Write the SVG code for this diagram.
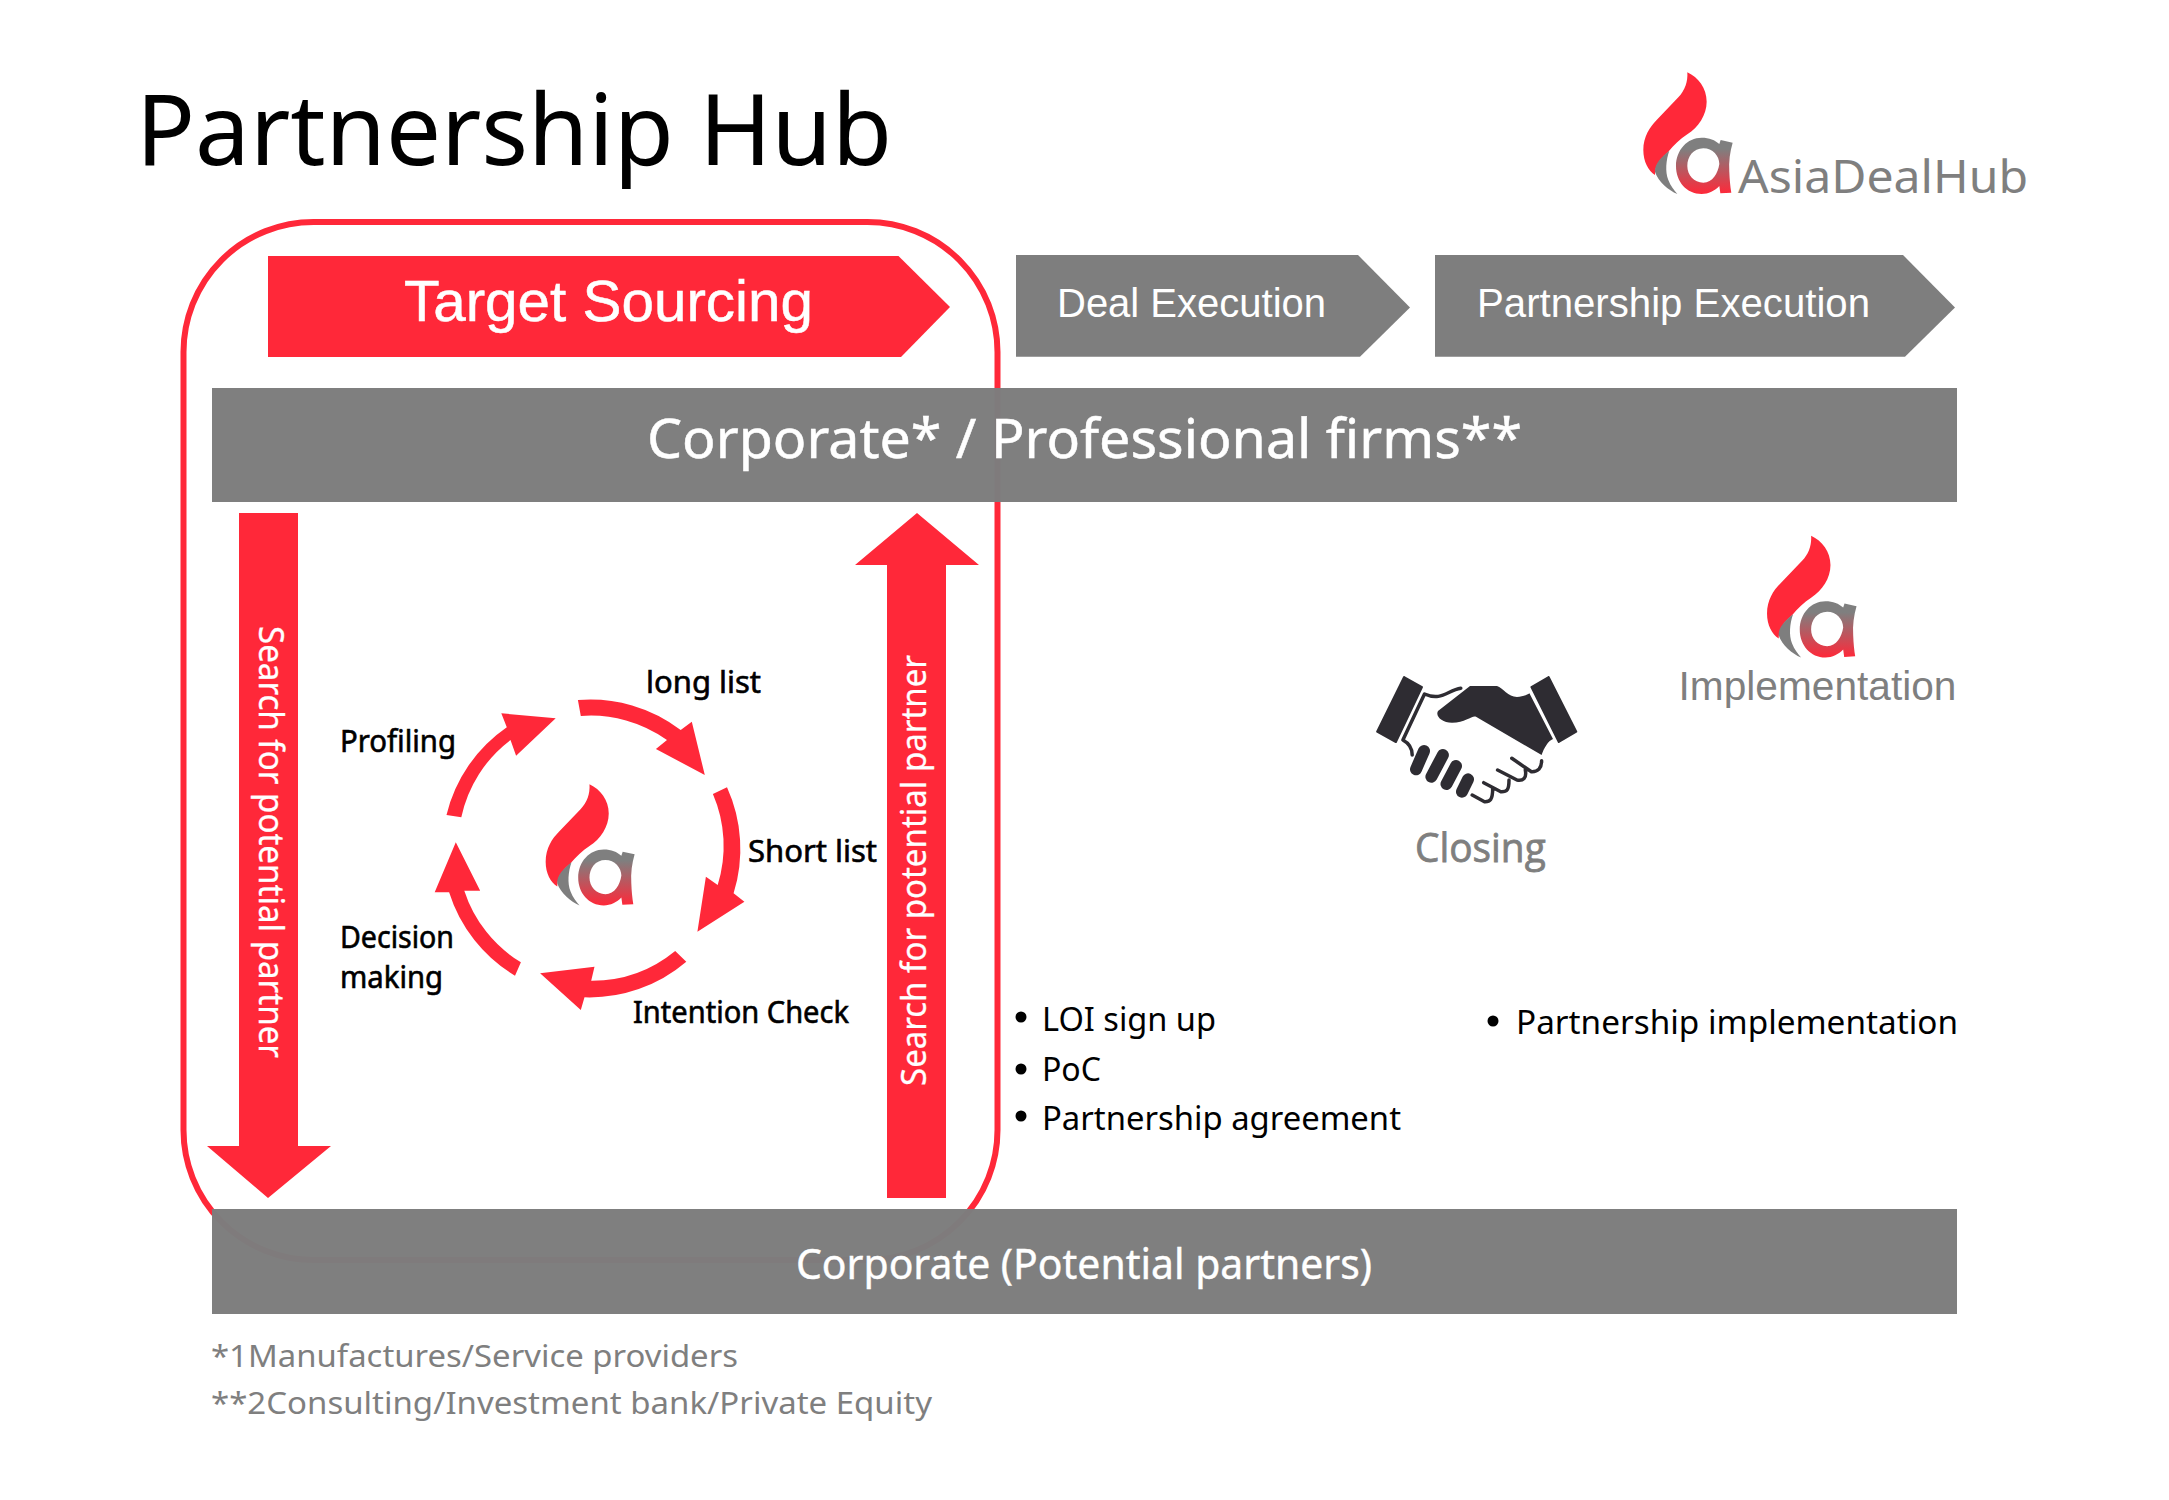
<svg xmlns="http://www.w3.org/2000/svg" xmlns:xlink="http://www.w3.org/1999/xlink" width="2169" height="1500" viewBox="0 0 2169 1500">
<style>
.red{fill:#ff2839}
.grey{fill:#7e7e7e}
.bar{fill:#7d7d7d;fill-opacity:.985}
text{font-family:"Noto Sans","Open Sans",sans-serif}
.ar{font-family:"Liberation Sans",Arial,sans-serif}
.wh{fill:#fff}
.gt{fill:#7f7f7f}
.bk{fill:#000}
.cy{font-size:30px;stroke:#000;stroke-width:.6px}
.bl{font-size:33px}
.fn{font-size:31px;fill:#7f7f7f}
.hs{fill:#2e2c32}
.hl{fill:none;stroke:#2e2c32;stroke-width:3.5;stroke-linecap:round;stroke-linejoin:round}
.hf{fill:none;stroke:#2e2c32;stroke-width:12;stroke-linecap:round}
</style>
<defs>
<linearGradient id="ga" x1="0" y1="0" x2="0" y2="1"><stop offset="0" stop-color="#7f7f7f"/><stop offset=".2" stop-color="#7f7f7f"/><stop offset="1" stop-color="#ff2839"/></linearGradient>
<g id="logo">
<path class="red" d="M262,97 C295,112 320,145 320,185 C320,225 295,262 262,283 C240,297 222,315 205,335 C185,352 165,372 165,405 C145,392 130,365 130,330 C130,290 150,260 170,240 L235,172 C255,152 264,125 262,97 Z"/>
<path class="grey" d="M208,332 C198,360 195,395 205,420 C212,438 222,450 232,462 C205,450 175,425 165,395 C163,372 185,350 208,332 Z"/>
<path fill="url(#ga)" fill-rule="evenodd" d="M362,300 L398,308 C390,335 386,365 388,395 C389,420 391,440 394,458 L361,460 L358,438 C345,452 325,462 305,462 C260,462 228,425 228,378 C228,330 262,293 305,293 C328,293 345,300 358,312 Z M310,325 C280,325 262,350 262,378 C262,405 282,428 310,428 C338,428 354,400 358,372 C358,348 338,325 310,325 Z"/>
</g>
</defs>
<rect width="2169" height="1500" fill="#fff"/>

<g id="title"><text x="136" y="165" font-size="98" class="bk" textLength="756" lengthAdjust="spacingAndGlyphs">Partnership Hub</text></g>

<g id="brand-logo">
<use href="#logo" transform="translate(1600,40) scale(.3333)"/>
<text x="1738" y="192.7" font-size="46" class="gt" textLength="290" lengthAdjust="spacingAndGlyphs">AsiaDealHub</text>
</g>

<g id="target-frame"><rect x="183.5" y="222" width="814" height="1038" rx="130" ry="130" fill="none" stroke="#ff2839" stroke-width="6"/></g>

<g id="target-sourcing">
<polygon class="red" points="268,256 898.5,256 950,307 901,357 268,357"/>
<text class="ar wh" x="404" y="320.7" font-size="57" textLength="409" lengthAdjust="spacingAndGlyphs" stroke="#fff" stroke-width=".5">Target Sourcing</text>
</g>
<g id="deal-execution">
<polygon class="grey" points="1016,255 1358,255 1410,307.5 1360,356.7 1016,356.7"/>
<text class="ar wh" x="1057" y="316.7" font-size="40" textLength="269" lengthAdjust="spacingAndGlyphs">Deal Execution</text>
</g>
<g id="partnership-execution">
<polygon class="grey" points="1435,255 1903,255 1955,307.5 1905,356.7 1435,356.7"/>
<text class="ar wh" x="1477" y="316.7" font-size="40" textLength="393" lengthAdjust="spacingAndGlyphs">Partnership Execution</text>
</g>

<g id="corporate-bar">
<rect class="bar" x="212" y="388" width="1745" height="114"/>
<text class="wh" x="647" y="458" font-size="55" stroke="#fff" stroke-width=".5" textLength="875" lengthAdjust="spacingAndGlyphs">Corporate* / Professional firms**</text>
</g>
<g id="potential-bar">
<rect class="bar" x="212" y="1209" width="1745" height="105"/>
<text class="wh" x="796" y="1279" font-size="41" stroke="#fff" stroke-width=".4" textLength="576" lengthAdjust="spacingAndGlyphs">Corporate (Potential partners)</text>
</g>

<g id="connectors">
<polygon class="red" points="239,513 298,513 298,1146 331,1146 268,1198 207,1146 239,1146"/>
<polygon class="red" points="887,1198 946,1198 946,565 979,565 917,513 855,565 887,565"/>
<path class="red" d="M577.9,700 A149,149 0 0 1 680.7,730 L691.8,721.7 L704.8,775 L655.9,749 L667,740 A131,131 0 0 0 580.8,716 Z"/>
<path class="red" d="M727,787.3 A149,149 0 0 1 733.6,893.3 L744.4,901.7 L697.4,931.7 L705.9,876.7 L717.7,885 A131,131 0 0 0 712.9,794 Z"/>
<path class="red" d="M686.3,961.7 A149,149 0 0 1 584.5,997.3 L580.8,1010 L540.1,973.3 L594.5,966.7 L591.2,980.7 A131,131 0 0 0 675.2,951 Z"/>
<path class="red" d="M515,975.7 A149,149 0 0 1 449.1,892.3 L434.7,892.3 L455.8,842.3 L480.2,890.7 L464.3,890.7 A131,131 0 0 0 520.9,962.3 Z"/>
<path class="red" d="M446.5,815 A149,149 0 0 1 506.8,727.3 L501.3,713.3 L555.7,718.3 L516.1,755.7 L510.5,740 A131,131 0 0 0 461.3,817.3 Z"/>
</g>

<g id="search-down"><text class="wh" font-size="35" stroke="#fff" stroke-width=".3" transform="translate(259,626) rotate(90)" textLength="432" lengthAdjust="spacingAndGlyphs">Search for potential partner</text></g>
<g id="search-up"><text class="wh" font-size="35" stroke="#fff" stroke-width=".3" transform="translate(926,1086) rotate(-90)" textLength="431" lengthAdjust="spacingAndGlyphs">Search for potential partner</text></g>

<g id="cycle-logo"><use href="#logo" transform="translate(502.5,752.1) scale(.332)"/></g>
<g id="long-list"><text class="cy bk" x="646" y="693" textLength="115" lengthAdjust="spacingAndGlyphs">long list</text></g>
<g id="short-list"><text class="cy bk" x="748" y="861.7" textLength="129" lengthAdjust="spacingAndGlyphs">Short list</text></g>
<g id="intention-check"><text class="cy bk" x="633" y="1022.7" textLength="216" lengthAdjust="spacingAndGlyphs">Intention Check</text></g>
<g id="decision-making">
<text class="cy bk" x="340" y="948" textLength="114" lengthAdjust="spacingAndGlyphs">Decision</text>
<text class="cy bk" x="340" y="988" textLength="103" lengthAdjust="spacingAndGlyphs">making</text>
</g>
<g id="profiling"><text class="cy bk" x="340" y="751.7" textLength="116" lengthAdjust="spacingAndGlyphs">Profiling</text></g>

<g id="closing">
<path class="hs" stroke="#2e2c32" stroke-width="2" stroke-linejoin="round" d="M1404.1,677 L1422,687 L1395.9,742 L1377.1,731.7 Z"/>
<path class="hs" stroke="#2e2c32" stroke-width="2" stroke-linejoin="round" d="M1548.6,677 L1531.4,687 L1558.8,742 L1576.3,731.7 Z"/>
<path class="hs" d="M1470,686 L1497,686 C1503,688 1508,697 1517,697 C1522,697 1527,695 1529.4,693.3 L1553,739 C1548,741 1544,748 1541.6,755 L1476,716.7 C1472,715 1466,722.7 1452,722.7 C1442,722.7 1435,716 1438,711 Z"/>
<path class="hl" d="M1460.8,688.3 C1447.8,690 1441.6,701.7 1424.5,694 L1402.9,740 C1409,743.3 1412.2,748.3 1412.2,755"/>
<path class="hf" d="M1424,751 L1416,769.3 M1442.9,755 L1431.4,776.7 M1456,766 L1446.5,784 M1468,779.3 L1462,791.7"/>
<path class="hl" d="M1511.8,758.3 L1531.4,771.7 C1538,772 1541.6,768.3 1541.6,760.7 M1497.6,770 L1517,780 C1523,781 1527,778.3 1525.3,770 M1483.7,782.7 L1500.8,791.7 C1507,792 1509,790 1509,780 M1472.2,795 L1484.5,801.7 C1490,802 1492.7,800 1492.7,788.3"/>
<text x="1415" y="861.7" font-size="41" class="gt" style="font-family:'Open Sans',sans-serif;stroke:#7f7f7f;stroke-width:.8px" textLength="130.7" lengthAdjust="spacingAndGlyphs">Closing</text>
</g>

<g id="implementation">
<use href="#logo" transform="translate(1723.6,503.3) scale(.334)"/>
<text class="ar gt" x="1678.5" y="700" font-size="41" textLength="278" lengthAdjust="spacingAndGlyphs">Implementation</text>
</g>

<g id="deal-list">
<circle cx="1021" cy="1017" r="5.5" class="bk"/><text class="bl bk" x="1042" y="1031" textLength="174" lengthAdjust="spacingAndGlyphs">LOI sign up</text>
<circle cx="1021" cy="1069" r="5.5" class="bk"/><text class="bl bk" x="1042" y="1081" textLength="59" lengthAdjust="spacingAndGlyphs">PoC</text>
<circle cx="1021" cy="1116" r="5.5" class="bk"/><text class="bl bk" x="1042" y="1130" textLength="359" lengthAdjust="spacingAndGlyphs">Partnership agreement</text>
</g>
<g id="partnership-list">
<circle cx="1493" cy="1021" r="5.5" class="bk"/><text class="bl bk" x="1516" y="1034" textLength="442" lengthAdjust="spacingAndGlyphs">Partnership implementation</text>
</g>

<g id="footnotes">
<text class="fn" x="211" y="1367" textLength="527" lengthAdjust="spacingAndGlyphs">*1Manufactures/Service providers</text>
<text class="fn" x="211" y="1414" textLength="721" lengthAdjust="spacingAndGlyphs">**2Consulting/Investment bank/Private Equity</text>
</g>
</svg>
